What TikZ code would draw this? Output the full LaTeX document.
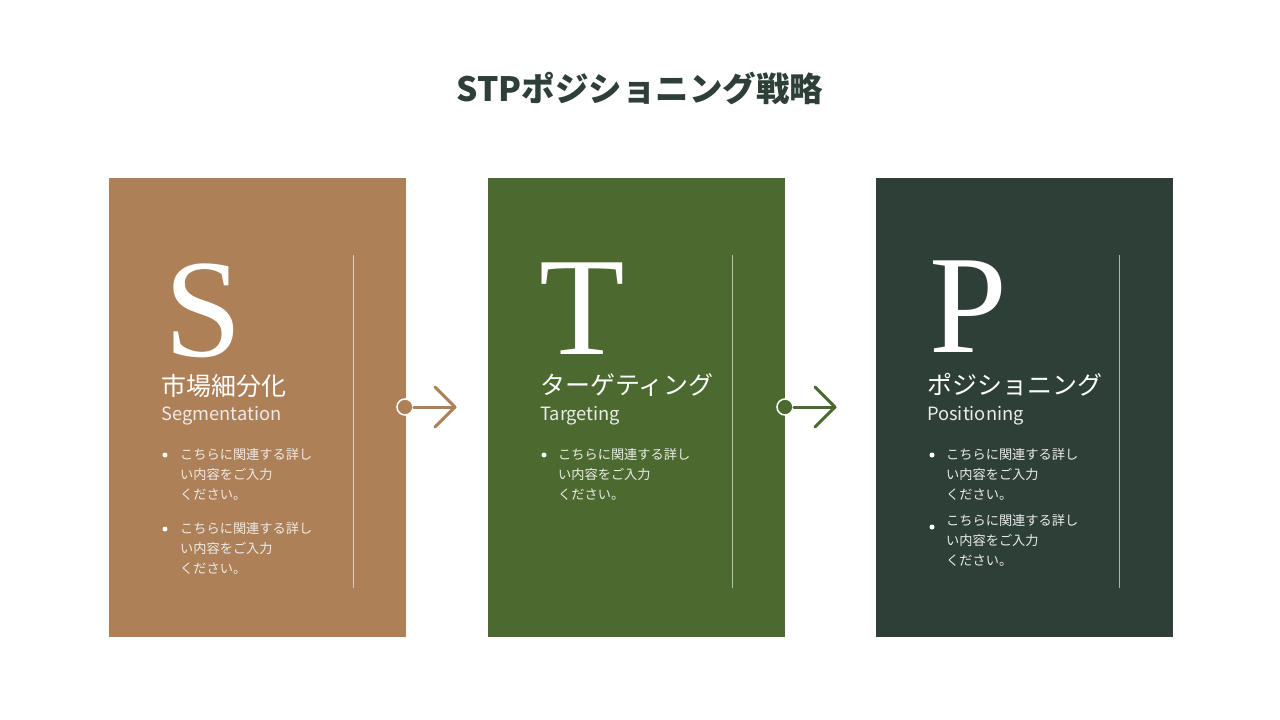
\documentclass[tikz,border=0pt]{standalone}
\usepackage{fontspec}
\setmainfont{Noto Sans CJK JP}
\newfontfamily\serifbig{Liberation Serif}
\definecolor{cS}{HTML}{AD8057}
\definecolor{cT}{HTML}{4C6A2F}
\definecolor{cP}{HTML}{2E3F38}
\begin{document}
\begin{tikzpicture}[x=1pt,y=-1pt,
  panel/.style={fill=#1,draw=none},
  big/.style={text=white,anchor=south west,inner sep=0pt,font=\serifbig\fontsize{140}{140}\selectfont},
  head/.style={text=white,anchor=west,inner sep=0pt,font=\fontsize{25}{26}\selectfont},
  sub/.style={text=white!92!black,anchor=west,inner sep=0pt,font=\fontsize{18.3}{19}\selectfont},
  body/.style={text=white!92!black,anchor=north west,inner sep=0pt,align=left,font=\fontsize{13.2}{20}\selectfont},
  vline/.style={draw=white!60!#1,line width=1pt},
  dotb/.style={fill=white,draw=none,circle,inner sep=0pt,minimum size=5pt}]
\useasboundingbox (0,0) rectangle (1280,720);
\fill[white] (0,0) rectangle (1280,720);
\node[font=\bfseries\fontsize{33.5}{36}\selectfont,text=cP] (title) at (640,88) {STPポジショニング戦略};
% panels
\fill[panel=cS] (109,178) rectangle (406,637);
\fill[panel=cT] (488,178) rectangle (785,637);
\fill[panel=cP] (876,178) rectangle (1173,637);
\draw[vline=cS] (353,255) -- (353,588);
\draw[vline=cT] (732,255) -- (732,588);
\draw[vline=cP] (1119,255) -- (1119,588);
% letters
\node[big] (S) at (164,358) {S};
\node[big] (T) at (539,355) {T};
\node[big] (P) at (929,353) {P};
% headings
\node[head] (hS) at (161,386) {市場細分化};
\node[sub] (sS) at (161,416) {Segmentation};
\node[head] (hT) at (540,385) {ターゲティング};
\node[sub] (sT) at (540,416) {Targeting};
\node[head] (hP) at (927,385) {ポジショニング};
\node[sub] (sP) at (927,416) {Positioning};
% bullets
\node[dotb] (d1) at (165,455) {}; \node[body] (b1) at (180,448) {こちらに関連する詳し\\い内容をご入力\\ください。};
\node[dotb] (d2) at (165,529) {}; \node[body] (b2) at (180,522) {こちらに関連する詳し\\い内容をご入力\\ください。};
\node[dotb] (d3) at (544,455) {}; \node[body] (b3) at (558,448) {こちらに関連する詳し\\い内容をご入力\\ください。};
\node[dotb] (d4) at (932,455) {}; \node[body] (b4) at (946,448) {こちらに関連する詳し\\い内容をご入力\\ください。};
\node[dotb] (d5) at (932,527) {}; \node[body] (b5) at (946,514) {こちらに関連する詳し\\い内容をご入力\\ください。};
% arrows
\node[circle,fill=cS,draw=white,line width=1.5pt,minimum size=16pt,inner sep=0pt] (c1) at (405,407) {};
\coordinate (e1) at (455,407);
\draw[cS,line width=3pt,line cap=round] (c1.east) -- (e1);
\draw[cS,line width=3pt,line cap=round,line join=round] (435,387) -- (e1) -- (435,427);
\node[circle,fill=cT,draw=white,line width=1.5pt,minimum size=16pt,inner sep=0pt] (c2) at (785,407) {};
\coordinate (e2) at (835,407);
\draw[cT,line width=3pt,line cap=round] (c2.east) -- (e2);
\draw[cT,line width=3pt,line cap=round,line join=round] (815,387) -- (e2) -- (815,427);
\end{tikzpicture}
\end{document}
